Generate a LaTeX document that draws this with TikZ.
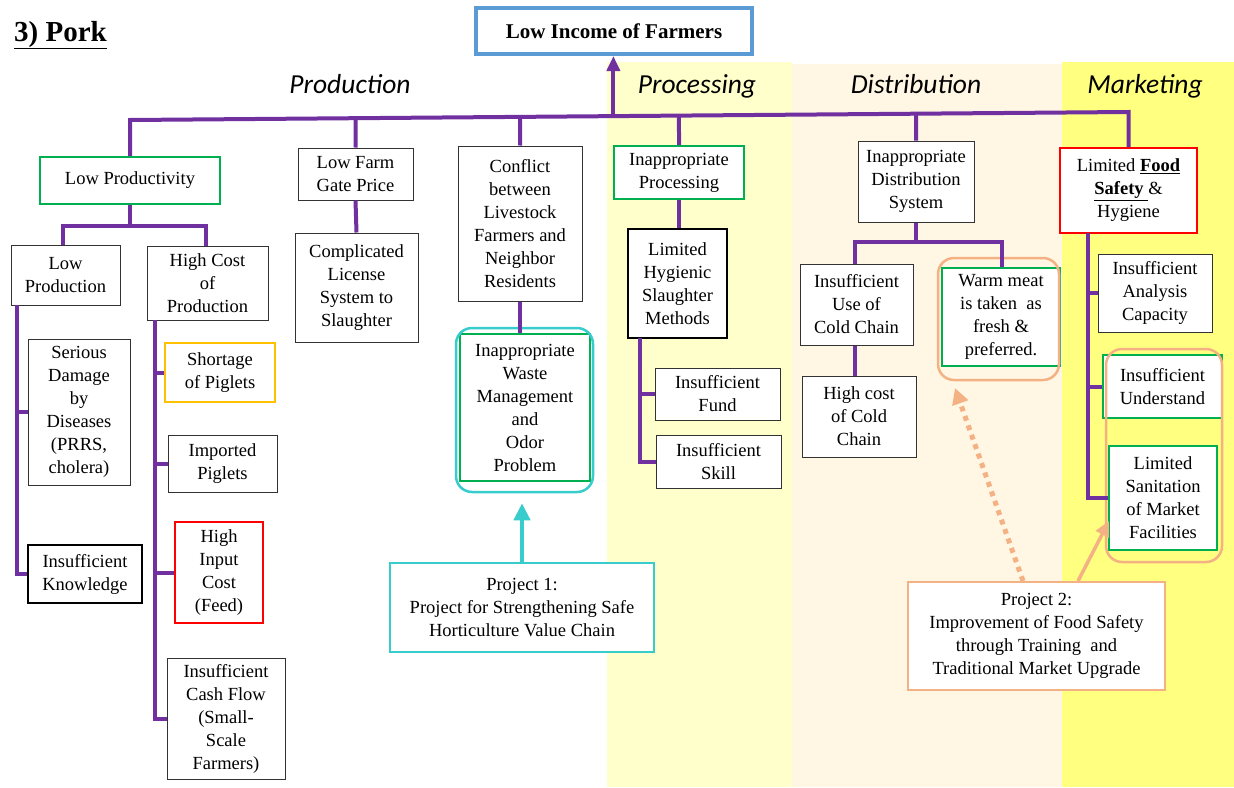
\documentclass[tikz,border=0pt]{standalone}
\usepackage{fontspec}
\setmainfont{Liberation Serif}
\newfontfamily\headfont{Carlito}
\usetikzlibrary{arrows.meta,calc}
\definecolor{purp}{HTML}{7030A0}
\definecolor{grn}{HTML}{00B050}
\definecolor{org}{HTML}{FFC000}
\definecolor{blu}{HTML}{5B9BD5}
\definecolor{cyn}{RGB}{56,204,204}
\definecolor{salmon}{HTML}{F4B183}
\definecolor{bandA}{HTML}{FFFFCC}
\definecolor{bandB}{HTML}{FFF6E3}
\definecolor{bandC}{HTML}{FFFF80}
\begin{document}
\begin{tikzpicture}[x=1pt,y=-1pt,
  box/.style={draw=black!80,line width=1pt,fill=white,align=center,inner sep=0pt,
    font=\fontsize{18.5}{23}\selectfont},
  thick box/.style={box,draw=black,line width=2pt},
  gbox/.style={box,draw=grn,line width=2.5pt},
  rbox/.style={box,draw=red,line width=2.5pt},
  obox/.style={box,draw=org,line width=2.5pt},
  sz/.style 2 args={minimum width=#1pt,minimum height=#2pt},
  frame/.style={draw=#1,line width=2.5pt,rounded corners=16pt,inner sep=0pt},
  head/.style={anchor=base,inner sep=0pt,font=\headfont\itshape\fontsize{27.5}{30}\selectfont},
  conn/.style={draw=purp,line width=4pt},
]
% page and colour bands
\fill[white] (0,0) rectangle (1234,787);
\useasboundingbox (0,0) rectangle (1234,787);
\fill[bandA] (607,62) rectangle (792,787);
\fill[bandB] (792,64) rectangle (1062,787);
\fill[bandC] (1062,62) rectangle (1234,787);

% title and headings
\node[anchor=base west,inner sep=0pt,font=\fontsize{29}{30}\selectfont\bfseries] (title) at (14,41) {\underline{3) Pork}};
\node[box,draw=blu,line width=4pt,sz={276}{46},font=\fontsize{21}{24}\selectfont\bfseries] (top) at (614,31) {Low Income of Farmers};
\node[head] (hProd) at (350,93) {Production};
\node[head] (hProc) at (697,93) {Processing};
\node[head] (hDist) at (916,93) {Distribution};
\node[head] (hMark) at (1145,93) {Marketing};

% production
\node[gbox,sz={180}{47}] (lowprod) at (130,180.5) {Low Productivity};
\node[box,sz={109}{60}] (lowpro) at (65.5,275) {Low\\Production};
\node[box,sz={121}{74}] (highcost) at (207.5,283) {High Cost\\of\\Production};
\node[box,sz={102}{146}] (serious) at (79,412) {Serious\\Damage\\by\\Diseases\\(PRRS,\\cholera)};
\node[thick box,sz={114}{58}] (insknow) at (85,574) {Insufficient\\Knowledge};
\node[obox,sz={110}{59}] (shortage) at (220,372.5) {Shortage\\of Piglets};
\node[box,sz={109}{57}] (imported) at (222.5,463.5) {Imported\\Piglets};
\node[rbox,sz={88}{101}] (highinput) at (219,572.5) {High\\Input\\Cost\\(Feed)};
\node[box,sz={118}{121}] (cashflow) at (226,718.5) {Insufficient\\Cash Flow\\(Small-\\Scale\\Farmers)};
\node[box,sz={115}{52}] (farmgate) at (355.5,174) {Low Farm\\Gate Price};
\node[box,sz={123}{109}] (license) at (356.5,287.5) {Complicated\\License\\System to\\Slaughter};
\node[box,sz={124}{155}] (conflict) at (520,223.5) {Conflict\\between\\Livestock\\Farmers and\\Neighbor\\Residents};
\node[gbox,sz={130}{147}] (waste) at (525,407.5) {Inappropriate\\Waste\\Management\\and\\Odor\\Problem};
\node[frame=cyn,sz={137}{164}] (wasteframe) at (524.5,410) {};
\node[box,draw=cyn,line width=2pt,sz={264}{89}] (proj1) at (522,607.5) {Project 1:\\Project for Strengthening Safe\\Horticulture Value Chain};

% processing
\node[gbox,sz={130}{53}] (inproc) at (679,172.5) {Inappropriate\\Processing};
\node[thick box,sz={99}{109}] (hygienic) at (677.5,283.5) {Limited\\Hygienic\\Slaughter\\Methods};
\node[box,sz={125}{52}] (fund) at (717.5,394) {Insufficient\\Fund};
\node[box,sz={125}{53}] (skill) at (718.5,461.5) {Insufficient\\Skill};

% distribution
\node[box,sz={116}{81}] (distsys) at (916,181.5) {Inappropriate\\Distribution\\System};
\node[box,sz={113}{81}] (coldchain) at (856.5,304.5) {Insufficient\\Use of\\Cold Chain};
\node[box,sz={114}{81}] (highcold) at (859,416.5) {High cost\\of Cold\\Chain};
\node[gbox,sz={118}{98}] (warm) at (1001,317) {Warm meat\\is taken~~as\\fresh \&\\preferred.};
\node[frame=salmon,sz={121}{122}] (warmframe) at (998.5,319) {};
\node[box,draw=salmon,line width=2pt,sz={257}{108}] (proj2) at (1036.5,636) {Project 2:\\Improvement of Food Safety\\through Training~~and\\Traditional Market Upgrade};

% marketing
\node[rbox,sz={137}{85}] (foodsafety) at (1128.5,190.5) {Limited \underline{\textbf{Food}}\\\underline{\textbf{Safety }}\&\\Hygiene};
\node[box,sz={114}{78}] (analysis) at (1155,293) {Insufficient\\Analysis\\Capacity};
\node[gbox,sz={119}{63}] (understand) at (1162.5,386.5) {Insufficient\\Understand};
\node[gbox,sz={108}{104}] (sanitation) at (1163,498) {Limited\\Sanitation\\of Market\\Facilities};
\node[frame=salmon,sz={116}{213}] (sanframe) at (1164,455.5) {};

% main trunk and its branches
\coordinate (mL) at (130,120);
\coordinate (mR) at (1128.5,112);
\draw[conn] (lowprod.north) -- (mL) -- (mR) -- (foodsafety.north);
\path (mL) -- (mR)
  coordinate[pos=0.2259] (jFarm)
  coordinate[pos=0.3907] (jConf)
  coordinate[pos=0.4841] (jTop)
  coordinate[pos=0.5498] (jProc)
  coordinate[pos=0.7872] (jDist);
\draw[conn] (jFarm) -- (farmgate.north);
\draw[conn] (jConf) -- (conflict.north);
\draw[conn] (jProc) -- (inproc.north);
\draw[conn] (jDist) -- (distsys.north);
\draw[conn,-{Triangle[length=15pt,width=13pt]}] (jTop) -- (jTop |- top.south);

% low productivity subtree
\coordinate (lpJ) at (130,226);
\coordinate (lpL) at (63,226);
\coordinate (lpR) at (206,226);
\draw[conn] (lowprod.south) -- (lpJ);
\draw[conn] (lowpro.north -| lpL) -- (lpL) -- (lpR) -- (highcost.north -| lpR);
\coordinate (s1) at (17,305);
\draw[conn] (s1) -- (s1 |- insknow.west) -- (insknow.west);
\draw[conn] (s1 |- serious.west) -- (serious.west);
\coordinate (s2) at (155,320);
\draw[conn] (s2) -- (s2 |- cashflow.west) -- (cashflow.west);
\draw[conn] (s2 |- shortage.west) -- (shortage.west);
\draw[conn] (s2 |- imported.west) -- (imported.west);
\draw[conn] (s2 |- highinput.west) -- (highinput.west);

% other production links
\draw[conn] (farmgate.south) -- (license.north);
\draw[conn] (conflict.south) -- (conflict.south |- waste.north);

% processing links
\draw[conn] (inproc.south) -- (inproc.south |- hygienic.north);
\coordinate (s3) at (640,338);
\draw[conn] (s3) -- (s3 |- skill.west) -- (skill.west);
\draw[conn] (s3 |- fund.west) -- (fund.west);

% distribution links
\coordinate (dL) at (855,242);
\coordinate (dR) at (1002,242);
\draw[conn] (distsys.south) -- (distsys.south |- dL);
\draw[conn] (coldchain.north -| dL) -- (dL) -- (dR) -- (warm.north -| dR);
\draw[conn] (coldchain.south -| dL) -- (highcold.north -| dL);

% marketing links
\coordinate (s4) at (1088,233);
\draw[conn] (s4) -- (s4 |- sanitation.west) -- (sanitation.west);
\draw[conn] (s4 |- analysis.west) -- (analysis.west);
\draw[conn] (s4 |- understand.west) -- (understand.west);

% project arrows
\draw[cyn,line width=4.5pt,shorten >=10pt,-{Triangle[length=17pt,width=16pt]}]
  (proj1.north) -- (proj1.north |- wasteframe.south);
\coordinate (d1) at (1023,581);
\coordinate (d2) at (955,388);
\draw[salmon,line width=5pt,dash pattern=on 5pt off 5pt,-{Triangle[length=16pt,width=16pt]}]
  (d1) -- (d2);
\coordinate (e1) at (1078,581);
\coordinate (e2) at (1109,521);
\draw[salmon,line width=3.5pt,-{Triangle[length=15pt,width=14pt]}] (e1) -- (e2);
\end{tikzpicture}
\end{document}
